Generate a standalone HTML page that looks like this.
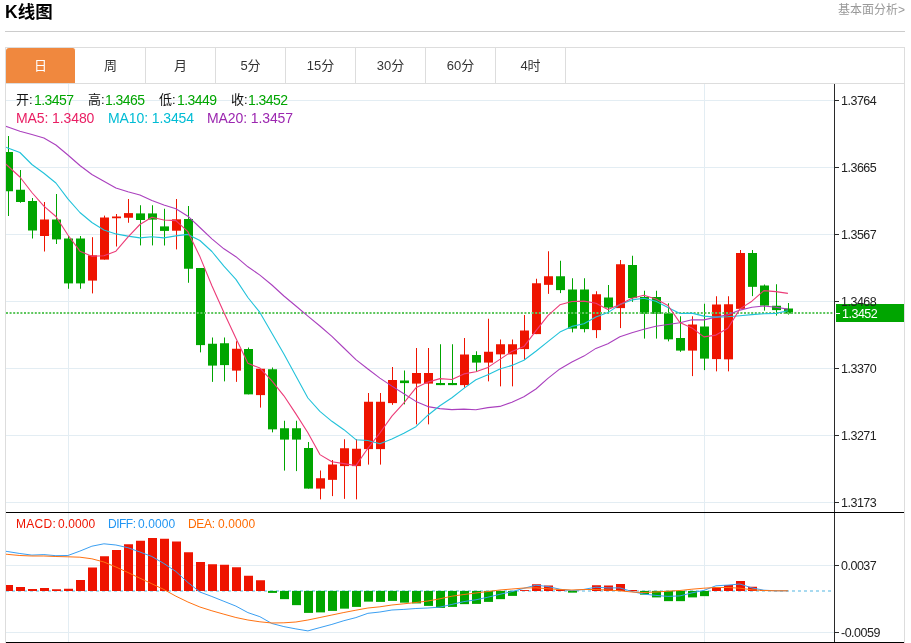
<!DOCTYPE html>
<html lang="zh-CN"><head><meta charset="utf-8"><title>K线图</title>
<style>
html,body{margin:0;padding:0;background:#fff;}
body{width:911px;height:643px;position:relative;overflow:hidden;font-family:"Liberation Sans","Noto Sans CJK SC",sans-serif;color:#333;}
.t{position:absolute;white-space:nowrap;line-height:16px;height:16px;}
h1{position:absolute;left:5px;top:2px;margin:0;font-size:17.5px;line-height:21px;font-weight:bold;color:#000;}
.more{position:absolute;right:6px;top:2px;font-size:12px;line-height:16px;color:#999;}
.hr{position:absolute;left:5px;top:31px;width:900px;height:1px;background:#ccc;}
.box{position:absolute;left:5px;top:47px;width:898px;height:600px;border:1px solid #ddd;border-bottom:none;box-sizing:content-box;}
.tabs{position:absolute;left:6px;top:48px;width:898px;height:35px;border-bottom:1px solid #ddd;}
.tab{position:absolute;top:0;width:69px;height:35px;border-right:1px solid #ddd;text-align:center;font-size:13px;line-height:35px;color:#333;}
.tab.on{background:#f0883e;color:#fff;border-radius:3px 3px 0 0;border-right-color:#fff;}
.ax{font-size:12.5px;color:#222;left:841px;letter-spacing:-0.5px;}
.lg{font-size:13.5px;}
.lm{font-size:12.3px;}
</style></head><body>
<h1>K线图</h1>
<div class="more">基本面分析&gt;</div>
<div class="hr"></div>
<div class="box"></div>
<div class="tabs">
<div class="tab on" style="left:0px">日</div>
<div class="tab" style="left:70px">周</div>
<div class="tab" style="left:140px">月</div>
<div class="tab" style="left:210px">5分</div>
<div class="tab" style="left:280px">15分</div>
<div class="tab" style="left:350px">30分</div>
<div class="tab" style="left:420px">60分</div>
<div class="tab" style="left:490px">4时</div>
</div>
<svg width="911" height="643" viewBox="0 0 911 643" style="position:absolute;left:0;top:0">
<defs><clipPath id="cp"><rect x="6" y="84" width="828" height="559"/></clipPath></defs>
<g shape-rendering="crispEdges" fill="#e3edf3">
<rect x="6" y="100" width="828" height="1"/>
<rect x="6" y="167" width="828" height="1"/>
<rect x="6" y="234" width="828" height="1"/>
<rect x="6" y="301" width="828" height="1"/>
<rect x="6" y="368" width="828" height="1"/>
<rect x="6" y="435" width="828" height="1"/>
<rect x="6" y="502" width="828" height="1"/>
<rect x="6" y="565" width="828" height="1"/>
<rect x="6" y="632" width="828" height="1"/>
<rect x="68" y="84" width="1" height="559"/>
<rect x="704" y="84" width="1" height="559"/>
</g>
<line x1="6" y1="591" x2="834" y2="591" stroke="#a8daf0" stroke-width="2" stroke-dasharray="3 3" shape-rendering="crispEdges"/>
<g clip-path="url(#cp)">
<rect x="8" y="136" width="1" height="80" fill="#00a500"/>
<rect x="4" y="152" width="9" height="39.25" fill="#00a500"/>
<rect x="20" y="170" width="1" height="32.75" fill="#00a500"/>
<rect x="16" y="189.75" width="9" height="12.25" fill="#00a500"/>
<rect x="32" y="198" width="1" height="40.5" fill="#00a500"/>
<rect x="28" y="201" width="9" height="29.5" fill="#00a500"/>
<rect x="44" y="202" width="1" height="49.5" fill="#ee1400"/>
<rect x="40" y="219.5" width="9" height="16.5" fill="#ee1400"/>
<rect x="56" y="194" width="1" height="50" fill="#00a500"/>
<rect x="52" y="219.5" width="9" height="19.9" fill="#00a500"/>
<rect x="68" y="236" width="1" height="52.75" fill="#00a500"/>
<rect x="64" y="238.5" width="9" height="44.9" fill="#00a500"/>
<rect x="80" y="236" width="1" height="52.75" fill="#00a500"/>
<rect x="76" y="238.5" width="9" height="44.9" fill="#00a500"/>
<rect x="92" y="237.2" width="1" height="56.2" fill="#ee1400"/>
<rect x="88" y="255.3" width="9" height="25.3" fill="#ee1400"/>
<rect x="104" y="215.6" width="1" height="44" fill="#ee1400"/>
<rect x="100" y="217.5" width="9" height="42.1" fill="#ee1400"/>
<rect x="116" y="214" width="1" height="32.5" fill="#ee1400"/>
<rect x="112" y="216.5" width="9" height="1.75" fill="#ee1400"/>
<rect x="128" y="199" width="1" height="23.75" fill="#ee1400"/>
<rect x="124" y="213.1" width="9" height="4.65" fill="#ee1400"/>
<rect x="140" y="205.25" width="1" height="40.15" fill="#00a500"/>
<rect x="136" y="213.4" width="9" height="6.6" fill="#00a500"/>
<rect x="152" y="205.25" width="1" height="40.15" fill="#00a500"/>
<rect x="148" y="213.4" width="9" height="6.2" fill="#00a500"/>
<rect x="164" y="208.75" width="1" height="36.75" fill="#00a500"/>
<rect x="160" y="226.4" width="9" height="4.5" fill="#00a500"/>
<rect x="176" y="199" width="1" height="50.4" fill="#ee1400"/>
<rect x="172" y="219.3" width="9" height="11.4" fill="#ee1400"/>
<rect x="188" y="206" width="1" height="76.75" fill="#00a500"/>
<rect x="184" y="219" width="9" height="49.75" fill="#00a500"/>
<rect x="200" y="268" width="1" height="84.35" fill="#00a500"/>
<rect x="196" y="268" width="9" height="77.1" fill="#00a500"/>
<rect x="212" y="337.5" width="1" height="44.35" fill="#00a500"/>
<rect x="208" y="343.75" width="9" height="21.85" fill="#00a500"/>
<rect x="224" y="337.5" width="1" height="43.85" fill="#00a500"/>
<rect x="220" y="343.25" width="9" height="21.85" fill="#00a500"/>
<rect x="236" y="341.25" width="1" height="40.6" fill="#ee1400"/>
<rect x="232" y="348.75" width="9" height="21.85" fill="#ee1400"/>
<rect x="248" y="347.5" width="1" height="46.85" fill="#00a500"/>
<rect x="244" y="349" width="9" height="45.35" fill="#00a500"/>
<rect x="260" y="368.75" width="1" height="38.85" fill="#ee1400"/>
<rect x="256" y="368.75" width="9" height="26.35" fill="#ee1400"/>
<rect x="272" y="367.5" width="1" height="64.85" fill="#00a500"/>
<rect x="268" y="369.25" width="9" height="60.1" fill="#00a500"/>
<rect x="284" y="420.75" width="1" height="49.85" fill="#00a500"/>
<rect x="280" y="428.25" width="9" height="11.35" fill="#00a500"/>
<rect x="296" y="420.75" width="1" height="50.35" fill="#00a500"/>
<rect x="292" y="428.25" width="9" height="11.35" fill="#00a500"/>
<rect x="308" y="442" width="1" height="46.6" fill="#00a500"/>
<rect x="304" y="448" width="9" height="40.6" fill="#00a500"/>
<rect x="320" y="470.5" width="1" height="28.85" fill="#ee1400"/>
<rect x="316" y="478.25" width="9" height="10.35" fill="#ee1400"/>
<rect x="332" y="460" width="1" height="36.1" fill="#ee1400"/>
<rect x="328" y="464.5" width="9" height="15.35" fill="#ee1400"/>
<rect x="344" y="439.25" width="1" height="59.6" fill="#ee1400"/>
<rect x="340" y="448.25" width="9" height="17.85" fill="#ee1400"/>
<rect x="356" y="439.25" width="1" height="60.1" fill="#ee1400"/>
<rect x="352" y="448.75" width="9" height="17.35" fill="#ee1400"/>
<rect x="368" y="393" width="1" height="71.6" fill="#ee1400"/>
<rect x="364" y="401.75" width="9" height="47.35" fill="#ee1400"/>
<rect x="380" y="393" width="1" height="71.6" fill="#ee1400"/>
<rect x="376" y="401.75" width="9" height="47.35" fill="#ee1400"/>
<rect x="392" y="367" width="1" height="37.85" fill="#ee1400"/>
<rect x="388" y="380" width="9" height="23.1" fill="#ee1400"/>
<rect x="404" y="370.5" width="1" height="33.85" fill="#00a500"/>
<rect x="400" y="380.5" width="9" height="2.6" fill="#00a500"/>
<rect x="416" y="348" width="1" height="76.35" fill="#ee1400"/>
<rect x="412" y="373" width="9" height="10.6" fill="#ee1400"/>
<rect x="428" y="348" width="1" height="76.35" fill="#ee1400"/>
<rect x="424" y="373" width="9" height="10.6" fill="#ee1400"/>
<rect x="440" y="344.25" width="1" height="40.85" fill="#00a500"/>
<rect x="436" y="383" width="9" height="2.1" fill="#00a500"/>
<rect x="452" y="344.25" width="1" height="40.85" fill="#00a500"/>
<rect x="448" y="383" width="9" height="2.1" fill="#00a500"/>
<rect x="464" y="338" width="1" height="49.6" fill="#ee1400"/>
<rect x="460" y="354.5" width="9" height="30.6" fill="#ee1400"/>
<rect x="476" y="351.25" width="1" height="19.85" fill="#00a500"/>
<rect x="472" y="355" width="9" height="7.6" fill="#00a500"/>
<rect x="488" y="318.75" width="1" height="62.6" fill="#ee1400"/>
<rect x="484" y="351.75" width="9" height="10.85" fill="#ee1400"/>
<rect x="500" y="339.5" width="1" height="46.85" fill="#ee1400"/>
<rect x="496" y="344.25" width="9" height="10.1" fill="#ee1400"/>
<rect x="512" y="339.5" width="1" height="46.85" fill="#ee1400"/>
<rect x="508" y="344.25" width="9" height="10.1" fill="#ee1400"/>
<rect x="524" y="315" width="1" height="44.85" fill="#ee1400"/>
<rect x="520" y="330.5" width="9" height="18.6" fill="#ee1400"/>
<rect x="536" y="278.75" width="1" height="55.35" fill="#ee1400"/>
<rect x="532" y="283.25" width="9" height="50.85" fill="#ee1400"/>
<rect x="548" y="251.25" width="1" height="42.6" fill="#ee1400"/>
<rect x="544" y="276.25" width="9" height="8.6" fill="#ee1400"/>
<rect x="560" y="260.75" width="1" height="32.35" fill="#00a500"/>
<rect x="556" y="276.25" width="9" height="13.85" fill="#00a500"/>
<rect x="572" y="278.25" width="1" height="54.1" fill="#00a500"/>
<rect x="568" y="289.5" width="9" height="39.1" fill="#00a500"/>
<rect x="584" y="278.25" width="1" height="54.1" fill="#00a500"/>
<rect x="580" y="289.5" width="9" height="39.6" fill="#00a500"/>
<rect x="596" y="291.25" width="1" height="46.85" fill="#ee1400"/>
<rect x="592" y="294.25" width="9" height="35.85" fill="#ee1400"/>
<rect x="608" y="285" width="1" height="26.85" fill="#00a500"/>
<rect x="604" y="297.5" width="9" height="10.1" fill="#00a500"/>
<rect x="620" y="260" width="1" height="68.1" fill="#ee1400"/>
<rect x="616" y="264.25" width="9" height="43.85" fill="#ee1400"/>
<rect x="632" y="255.75" width="1" height="46.1" fill="#00a500"/>
<rect x="628" y="265" width="9" height="33.1" fill="#00a500"/>
<rect x="644" y="290.75" width="1" height="47.85" fill="#00a500"/>
<rect x="640" y="297" width="9" height="16.85" fill="#00a500"/>
<rect x="656" y="290.75" width="1" height="47.85" fill="#00a500"/>
<rect x="652" y="297" width="9" height="16.85" fill="#00a500"/>
<rect x="668" y="303.25" width="1" height="38.1" fill="#00a500"/>
<rect x="664" y="313.25" width="9" height="26.1" fill="#00a500"/>
<rect x="680" y="316.25" width="1" height="35.6" fill="#00a500"/>
<rect x="676" y="338" width="9" height="12.6" fill="#00a500"/>
<rect x="692" y="316.25" width="1" height="59.85" fill="#ee1400"/>
<rect x="688" y="324.5" width="9" height="26.1" fill="#ee1400"/>
<rect x="704" y="303.75" width="1" height="66.35" fill="#00a500"/>
<rect x="700" y="326.5" width="9" height="32.1" fill="#00a500"/>
<rect x="716" y="296.25" width="1" height="75.1" fill="#ee1400"/>
<rect x="712" y="304.5" width="9" height="54.6" fill="#ee1400"/>
<rect x="728" y="296.25" width="1" height="75.1" fill="#ee1400"/>
<rect x="724" y="304.25" width="9" height="55.1" fill="#ee1400"/>
<rect x="740" y="250" width="1" height="58.85" fill="#ee1400"/>
<rect x="736" y="253" width="9" height="55.85" fill="#ee1400"/>
<rect x="752" y="250" width="1" height="46.1" fill="#00a500"/>
<rect x="748" y="253" width="9" height="33.85" fill="#00a500"/>
<rect x="764" y="284.5" width="1" height="26.1" fill="#00a500"/>
<rect x="760" y="285.5" width="9" height="20.1" fill="#00a500"/>
<rect x="776" y="284.25" width="1" height="31.35" fill="#00a500"/>
<rect x="772" y="305.75" width="9" height="4.35" fill="#00a500"/>
<rect x="788" y="303" width="1" height="11.6" fill="#00a500"/>
<rect x="784" y="308.5" width="9" height="5.1" fill="#00a500"/>
<rect x="4" y="585" width="9" height="6" fill="#ee1400"/>
<rect x="16" y="587" width="9" height="4" fill="#ee1400"/>
<rect x="28" y="589" width="9" height="2" fill="#ee1400"/>
<rect x="40" y="588" width="9" height="3" fill="#ee1400"/>
<rect x="52" y="589.25" width="9" height="1.75" fill="#ee1400"/>
<rect x="64" y="588.75" width="9" height="2.25" fill="#ee1400"/>
<rect x="76" y="580" width="9" height="11" fill="#ee1400"/>
<rect x="88" y="567.5" width="9" height="23.5" fill="#ee1400"/>
<rect x="100" y="556.25" width="9" height="34.75" fill="#ee1400"/>
<rect x="112" y="550" width="9" height="41" fill="#ee1400"/>
<rect x="124" y="544.25" width="9" height="46.75" fill="#ee1400"/>
<rect x="136" y="540.75" width="9" height="50.25" fill="#ee1400"/>
<rect x="148" y="538" width="9" height="53" fill="#ee1400"/>
<rect x="160" y="538.75" width="9" height="52.25" fill="#ee1400"/>
<rect x="172" y="541.5" width="9" height="49.5" fill="#ee1400"/>
<rect x="184" y="552.25" width="9" height="38.75" fill="#ee1400"/>
<rect x="196" y="562" width="9" height="29" fill="#ee1400"/>
<rect x="208" y="564.25" width="9" height="26.75" fill="#ee1400"/>
<rect x="220" y="564.75" width="9" height="26.25" fill="#ee1400"/>
<rect x="232" y="567.25" width="9" height="23.75" fill="#ee1400"/>
<rect x="244" y="575.75" width="9" height="15.25" fill="#ee1400"/>
<rect x="256" y="580.25" width="9" height="10.75" fill="#ee1400"/>
<rect x="268" y="590.9" width="9" height="2" fill="#00a500"/>
<rect x="280" y="590.9" width="9" height="8.25" fill="#00a500"/>
<rect x="292" y="590.9" width="9" height="14.25" fill="#00a500"/>
<rect x="304" y="590.9" width="9" height="22" fill="#00a500"/>
<rect x="316" y="590.9" width="9" height="21.5" fill="#00a500"/>
<rect x="328" y="590.9" width="9" height="20" fill="#00a500"/>
<rect x="340" y="590.9" width="9" height="17.75" fill="#00a500"/>
<rect x="352" y="590.9" width="9" height="16" fill="#00a500"/>
<rect x="364" y="590.9" width="9" height="10.75" fill="#00a500"/>
<rect x="376" y="590.9" width="9" height="11" fill="#00a500"/>
<rect x="388" y="590.9" width="9" height="10" fill="#00a500"/>
<rect x="400" y="590.9" width="9" height="11.75" fill="#00a500"/>
<rect x="412" y="590.9" width="9" height="12.5" fill="#00a500"/>
<rect x="424" y="590.9" width="9" height="15" fill="#00a500"/>
<rect x="436" y="590.9" width="9" height="17" fill="#00a500"/>
<rect x="448" y="590.9" width="9" height="16" fill="#00a500"/>
<rect x="460" y="590.9" width="9" height="13.25" fill="#00a500"/>
<rect x="472" y="590.9" width="9" height="13" fill="#00a500"/>
<rect x="484" y="590.9" width="9" height="11" fill="#00a500"/>
<rect x="496" y="590.9" width="9" height="8.25" fill="#00a500"/>
<rect x="508" y="590.9" width="9" height="5" fill="#00a500"/>
<rect x="520" y="590.1" width="9" height="0.9" fill="#ee1400"/>
<rect x="532" y="584.25" width="9" height="6.75" fill="#ee1400"/>
<rect x="544" y="585.5" width="9" height="5.5" fill="#ee1400"/>
<rect x="556" y="589.75" width="9" height="1.25" fill="#ee1400"/>
<rect x="568" y="590.9" width="9" height="1.75" fill="#00a500"/>
<rect x="592" y="585.25" width="9" height="5.75" fill="#ee1400"/>
<rect x="604" y="585.5" width="9" height="5.5" fill="#ee1400"/>
<rect x="616" y="584" width="9" height="7" fill="#ee1400"/>
<rect x="628" y="590" width="9" height="1" fill="#ee1400"/>
<rect x="640" y="590.9" width="9" height="3.75" fill="#00a500"/>
<rect x="652" y="590.9" width="9" height="6.5" fill="#00a500"/>
<rect x="664" y="590.9" width="9" height="10.25" fill="#00a500"/>
<rect x="676" y="590.9" width="9" height="10.25" fill="#00a500"/>
<rect x="688" y="590.9" width="9" height="6.5" fill="#00a500"/>
<rect x="700" y="590.9" width="9" height="5.25" fill="#00a500"/>
<rect x="712" y="587" width="9" height="4" fill="#ee1400"/>
<rect x="724" y="585" width="9" height="6" fill="#ee1400"/>
<rect x="736" y="581" width="9" height="10" fill="#ee1400"/>
<rect x="748" y="586.75" width="9" height="4.25" fill="#ee1400"/>
<rect x="760" y="590" width="9" height="1" fill="#ee1400"/>
</g>
<line x1="6" y1="313" x2="834" y2="313" stroke="#5cc65c" stroke-width="2" stroke-dasharray="2 1.6"/>
<polyline clip-path="url(#cp)" fill="none" stroke="#aa40be" stroke-width="1.1" stroke-linejoin="round" points="-4.1,122.8 7.9,127.0 19.9,131.2 31.9,134.5 43.9,138.0 55.9,145.0 67.9,155.0 79.9,165.5 91.9,174.5 103.9,181.2 115.9,188.0 127.9,191.8 139.9,195.0 151.9,200.5 163.9,205.0 175.9,208.8 187.9,216.2 199.9,227.5 211.9,238.8 223.9,248.8 235.9,256.7 247.9,266.8 259.9,275.1 271.9,285.0 283.9,296.0 295.9,306.0 307.9,316.2 319.9,326.0 331.9,336.4 343.9,348.0 355.9,359.6 367.9,369.0 379.9,378.1 391.9,386.1 403.9,393.7 415.9,401.4 427.9,406.6 439.9,408.6 451.9,409.6 463.9,409.1 475.9,409.7 487.9,407.6 499.9,406.4 511.9,402.2 523.9,396.8 535.9,389.0 547.9,378.4 559.9,368.9 571.9,362.1 583.9,356.1 595.9,348.4 607.9,343.7 619.9,336.8 631.9,332.7 643.9,329.2 655.9,326.2 667.9,324.5 679.9,322.8 691.9,319.8 703.9,319.9 715.9,317.1 727.9,314.7 739.9,310.1 751.9,307.2 763.9,306.0 775.9,307.3 787.9,309.1"/>
<polyline clip-path="url(#cp)" fill="none" stroke="#22c2da" stroke-width="1.1" stroke-linejoin="round" points="-4.1,143.5 7.9,148.0 19.9,152.5 31.9,164.5 43.9,173.2 55.9,183.0 67.9,198.8 79.9,212.5 91.9,222.5 103.9,230.0 115.9,233.9 127.9,236.1 139.9,237.9 151.9,236.8 163.9,237.9 175.9,235.9 187.9,234.4 199.9,240.5 211.9,251.5 223.9,266.2 235.9,279.4 247.9,297.5 259.9,312.4 271.9,333.3 283.9,354.1 295.9,376.1 307.9,398.0 319.9,411.4 331.9,421.3 343.9,429.7 355.9,439.7 367.9,440.5 379.9,443.8 391.9,438.9 403.9,433.3 415.9,426.7 427.9,415.2 439.9,405.8 451.9,397.8 463.9,388.4 475.9,379.8 487.9,374.8 499.9,369.0 511.9,365.4 523.9,360.2 535.9,351.2 547.9,341.6 559.9,332.1 571.9,326.4 583.9,323.8 595.9,317.1 607.9,312.6 619.9,304.6 631.9,299.9 643.9,298.2 655.9,301.2 667.9,307.4 679.9,313.5 691.9,313.1 703.9,316.1 715.9,317.1 727.9,316.8 739.9,315.7 751.9,314.6 763.9,313.8 775.9,313.4 787.9,310.8"/>
<polyline clip-path="url(#cp)" fill="none" stroke="#ec3c78" stroke-width="1.1" stroke-linejoin="round" points="-4.1,155.0 7.9,166.0 19.9,177.0 31.9,192.5 43.9,206.2 55.9,216.5 67.9,235.0 79.9,251.2 91.9,256.2 103.9,255.8 115.9,251.2 127.9,237.2 139.9,224.5 151.9,217.3 163.9,220.0 175.9,220.6 187.9,231.7 199.9,256.6 211.9,285.7 223.9,312.4 235.9,338.3 247.9,363.3 259.9,368.1 271.9,380.9 283.9,395.8 295.9,413.9 307.9,432.7 319.9,454.6 331.9,461.8 343.9,463.6 355.9,465.6 367.9,448.3 379.9,433.0 391.9,416.1 403.9,402.9 415.9,387.8 427.9,382.1 439.9,378.6 451.9,379.5 463.9,373.9 475.9,371.7 487.9,367.4 499.9,359.4 511.9,351.4 523.9,346.6 535.9,330.8 547.9,315.7 559.9,304.8 571.9,301.5 583.9,301.1 595.9,303.3 607.9,309.4 619.9,304.4 631.9,298.3 643.9,295.2 655.9,299.1 667.9,305.4 679.9,322.6 691.9,327.9 703.9,336.9 715.9,335.1 727.9,328.2 739.9,308.9 751.9,301.2 763.9,290.6 775.9,291.6 787.9,293.4"/>
<polyline clip-path="url(#cp)" fill="none" stroke="#3a9ff2" stroke-width="1.0" stroke-linejoin="round" points="-4.1,549.8 7.9,551.6 19.9,553.5 31.9,555.1 43.9,554.6 55.9,555.7 67.9,555.5 79.9,551.1 91.9,546.2 103.9,543.8 115.9,545.0 127.9,547.7 139.9,552.0 151.9,556.5 163.9,563.5 175.9,571.5 187.9,582.5 199.9,592.0 211.9,596.5 223.9,601.3 235.9,606.1 247.9,612.6 259.9,616.7 271.9,623.5 283.9,626.6 295.9,628.9 307.9,630.9 319.9,627.6 331.9,624.4 343.9,620.7 355.9,617.6 367.9,613.3 379.9,612.0 391.9,610.0 403.9,609.4 415.9,608.5 427.9,608.0 439.9,607.1 451.9,604.4 463.9,601.6 475.9,599.8 487.9,597.2 499.9,594.3 511.9,591.6 523.9,588.3 535.9,585.2 547.9,586.5 559.9,589.2 571.9,590.7 583.9,589.4 595.9,587.2 607.9,587.9 619.9,587.9 631.9,591.5 643.9,594.1 655.9,595.4 667.9,596.4 679.9,595.9 691.9,592.9 703.9,590.4 715.9,585.8 727.9,585.1 739.9,584.0 751.9,587.9 763.9,590.2 775.9,590.8 787.9,590.8"/>
<polyline clip-path="url(#cp)" fill="none" stroke="#ff7212" stroke-width="1.0" stroke-linejoin="round" points="-4.1,553.3 7.9,554.4 19.9,555.5 31.9,556.0 43.9,556.0 55.9,556.5 67.9,556.8 79.9,557.2 91.9,558.8 103.9,562.0 115.9,567.0 127.9,572.5 139.9,578.2 151.9,583.8 163.9,589.5 175.9,596.2 187.9,602.0 199.9,607.0 211.9,610.8 223.9,614.2 235.9,617.5 247.9,620.0 259.9,621.8 271.9,623.0 283.9,622.8 295.9,622.0 307.9,620.0 319.9,617.5 331.9,615.0 343.9,612.5 355.9,610.2 367.9,608.0 379.9,606.8 391.9,605.0 403.9,603.8 415.9,602.5 427.9,601.0 439.9,598.8 451.9,596.2 463.9,594.5 475.9,593.0 487.9,591.5 499.9,590.0 511.9,589.0 523.9,588.0 535.9,587.8 547.9,588.8 559.9,589.5 571.9,590.0 583.9,589.5 595.9,589.5 607.9,590.0 619.9,590.8 631.9,592.0 643.9,592.5 655.9,592.0 667.9,591.2 679.9,590.5 691.9,589.2 703.9,588.2 715.9,587.5 727.9,587.5 739.9,588.2 751.9,589.8 763.9,590.5 775.9,590.8 787.9,590.8"/>
<g shape-rendering="crispEdges" fill="#2a2a2a">
<rect x="834" y="84" width="1" height="559"/>
<rect x="6" y="512" width="898" height="1" fill="#000"/>
<rect x="6" y="642" width="898" height="1" fill="#000"/>
<rect x="835" y="100" width="4" height="1"/>
<rect x="835" y="167" width="4" height="1"/>
<rect x="835" y="234" width="4" height="1"/>
<rect x="835" y="301" width="4" height="1"/>
<rect x="835" y="368" width="4" height="1"/>
<rect x="835" y="435" width="4" height="1"/>
<rect x="835" y="502" width="4" height="1"/>
<rect x="835" y="565" width="4" height="1"/>
<rect x="835" y="632" width="4" height="1"/>
<rect x="836" y="304" width="68" height="18" fill="#00a500"/>
<rect x="836" y="313" width="4" height="1" fill="#fff"/>
</g>
</svg>
<div class="t ax" style="top:93px">1.3764</div>
<div class="t ax" style="top:160px">1.3665</div>
<div class="t ax" style="top:227px">1.3567</div>
<div class="t ax" style="top:294px">1.3468</div>
<div class="t ax" style="top:361px">1.3370</div>
<div class="t ax" style="top:428px">1.3271</div>
<div class="t ax" style="top:495px">1.3173</div>
<div class="t ax" style="top:558px">0.0037</div>
<div class="t ax" style="top:625px">-0.0059</div>
<div class="t ax" style="top:306px;left:842px;color:#fff">1.3452</div>
<div class="t" style="left:16px;top:92px;font-size:13px;color:#111">开:</div>
<div class="t" style="left:34px;top:92px;font-size:14px;letter-spacing:-0.55px;color:#00a500">1.3457</div>
<div class="t" style="left:88px;top:92px;font-size:13px;color:#111">高:</div>
<div class="t" style="left:105px;top:92px;font-size:14px;letter-spacing:-0.55px;color:#00a500">1.3465</div>
<div class="t" style="left:159px;top:92px;font-size:13px;color:#111">低:</div>
<div class="t" style="left:177px;top:92px;font-size:14px;letter-spacing:-0.55px;color:#00a500">1.3449</div>
<div class="t" style="left:231px;top:92px;font-size:13px;color:#111">收:</div>
<div class="t" style="left:248px;top:92px;font-size:14px;letter-spacing:-0.55px;color:#00a500">1.3452</div>
<div class="t" style="left:16px;top:110px;font-size:14px;letter-spacing:-0.1px;color:#e91e63">MA5: 1.3480</div>
<div class="t" style="left:108px;top:110px;font-size:14px;letter-spacing:-0.1px;color:#00bcd4">MA10: 1.3454</div>
<div class="t" style="left:207px;top:110px;font-size:14px;letter-spacing:-0.1px;color:#9c27b0">MA20: 1.3457</div>
<div class="t" style="left:16px;top:516px;font-size:12px;letter-spacing:0.3px;color:#ee1400">MACD:</div>
<div class="t" style="left:58px;top:516px;font-size:12px;letter-spacing:0.1px;color:#ee1400">0.0000</div>
<div class="t" style="left:108px;top:516px;font-size:12px;letter-spacing:-0.5px;color:#2196f3">DIFF:</div>
<div class="t" style="left:138px;top:516px;font-size:12px;letter-spacing:0.1px;color:#2196f3">0.0000</div>
<div class="t" style="left:188px;top:516px;font-size:12px;letter-spacing:-0.3px;color:#ff6a00">DEA:</div>
<div class="t" style="left:218px;top:516px;font-size:12px;letter-spacing:0.1px;color:#ff6a00">0.0000</div>
</body></html>
